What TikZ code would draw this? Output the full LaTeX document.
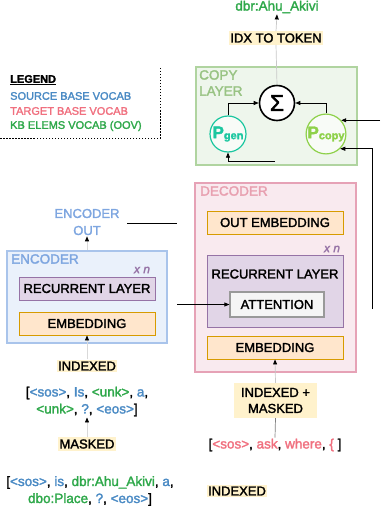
\documentclass[tikz,border=0pt]{standalone}
\usepackage{fontspec}
\setmainfont{Liberation Sans}[FakeBold=2]
\usetikzlibrary{arrows.meta,calc}
\definecolor{srcblue}{HTML}{4A8AC4}
\definecolor{tgtred}{HTML}{F0707F}
\definecolor{kbgreen}{HTML}{2EA84A}
\definecolor{enctitle}{HTML}{7EA6E0}
\definecolor{encfill}{HTML}{EAF1FB}
\definecolor{encdraw}{HTML}{A9C4EB}
\definecolor{decfill}{HTML}{F9EAEF}
\definecolor{decdraw}{HTML}{E6A2B6}
\definecolor{dectitle}{HTML}{E8A0B0}
\definecolor{copyfill}{HTML}{EEF6EC}
\definecolor{copydraw}{HTML}{B0D4A0}
\definecolor{copytitle}{HTML}{98C383}
\definecolor{embfill}{HTML}{FFE6CC}
\definecolor{embdraw}{HTML}{D79B00}
\definecolor{recfill}{HTML}{E1D5E7}
\definecolor{recdraw}{HTML}{9673A6}
\definecolor{beige}{HTML}{FFF2CC}
\definecolor{pgencol}{HTML}{1CC7A0}
\definecolor{pcopycol}{HTML}{8ED14A}
\definecolor{faintline}{HTML}{C8C8C8}
\newcommand{\fsz}[2]{\fontsize{#1}{#2}\selectfont}
\newcommand{\srcb}[1]{\textcolor{srcblue}{#1}}
\newcommand{\kbg}[1]{\textcolor{kbgreen}{#1}}
\newcommand{\tgr}[1]{\textcolor{tgtred}{#1}}
\begin{document}
\begin{tikzpicture}[x=1pt,y=-1pt,
  every node/.style={font=\fsz{13}{15}},
  container/.style={draw, line width=1.2pt, inner sep=0pt},
  box/.style={draw, line width=0.9pt, minimum width=136pt, minimum height=23pt, inner sep=0pt},
  embbox/.style={box, fill=embfill, draw=embdraw},
  recbox/.style={box, fill=recfill, draw=recdraw},
  hl/.style={fill=beige, inner xsep=1.5pt, inner ysep=2pt},
  title/.style={anchor=north west, inner sep=0pt, align=left, font=\fsz{13.5}{16}},
  xn/.style={text=recdraw, font=\fsz{12}{13}\itshape, inner sep=0pt},
  lst/.style={align=center, inner sep=1pt, font=\fsz{13.5}{17}},
  legtxt/.style={anchor=west, inner sep=0pt, font=\fsz{11}{13}},
  arr/.style={-{Triangle[length=5pt,width=4pt]}, line width=0.7pt},
  farr/.style={-{Triangle[length=5pt,width=4pt,color=black]}, draw=faintline, line width=0.7pt},
  pcirc/.style={circle, line width=1.2pt, minimum size=36pt, inner sep=0pt}
]
\useasboundingbox (0,0) rectangle (380,508);

% legend
\node[legtxt] (legT) at (10,80) {\underline{\textbf{LEGEND}}};
\node[legtxt, text=srcblue] (legS) at (10,96) {SOURCE BASE VOCAB};
\node[legtxt, text=tgtred] (legR) at (10,111) {TARGET BASE VOCAB};
\node[legtxt, text=kbgreen] (legK) at (10,126) {KB ELEMS VOCAB (OOV)};
\coordinate (lg1) at (160,68);
\coordinate (lg2) at (160,138);
\coordinate (lg3) at (0,138);
\draw[dash pattern=on 1.5pt off 1.5pt, line width=0.8pt] (lg1) -- (lg2) -- (lg3);

% top output
\node[text=kbgreen, inner sep=1pt, font=\fsz{13.5}{15}] (dbr) at (277,7) {dbr:Ahu\_Akivi};
\node[hl] (idx) at (276,38) {IDX TO TOKEN};

% copy layer
\node[container, fill=copyfill, draw=copydraw, minimum width=161pt, minimum height=98pt] (copy) at (276.5,116) {};
\node[title, text=copytitle] (copyT) at (199,70) {COPY\\LAYER};
\node[circle, draw=black, fill=white, line width=1.6pt, minimum size=35pt, inner sep=0pt, font=\fsz{23}{23}] (sigma) at (277,103) {Σ};
\node[pcirc, draw=pgencol, fill=white!60!copyfill, text=pgencol] (pgen) at (228,134)
  {\bfseries{\fsz{17}{17}P}\raisebox{-1pt}{\fsz{11}{10}gen}};
\node[pcirc, draw=pcopycol, fill=white!60!copyfill, text=pcopycol] (pcopy) at (326,134)
  {\bfseries{\fsz{17}{17}P}\raisebox{-1pt}{\fsz{11}{10}copy}};

% decoder
\node[container, fill=decfill, draw=decdraw, minimum width=161pt, minimum height=189pt] (dec) at (275.5,277.5) {};
\node[title, text=dectitle] (decT) at (200,186) {DECODER};
\node[embbox] (outemb) at (275,222.5) {OUT EMBEDDING};
\node[xn] (xnd) at (332,249) {x n};
\node[recbox, minimum height=72pt] (decrec) at (275,291) {};
\node[inner sep=0pt] (decrecT) at (275,274) {RECURRENT LAYER};
\node[draw=black!40, fill=black!4, line width=1.2pt, minimum width=94pt, minimum height=25pt, inner sep=0pt] (att) at (277,304.5) {ATTENTION};
\node[embbox] (decemb) at (275,347.5) {EMBEDDING};

% encoder
\node[container, fill=encfill, draw=encdraw, minimum width=160pt, minimum height=92pt] (enc) at (87,297) {};
\node[title, text=enctitle] (encT) at (11,254) {ENCODER};
\node[xn] (xne) at (142,270) {x n};
\node[recbox] (encrec) at (87,288.5) {RECURRENT LAYER};
\node[embbox] (encemb) at (87,323.5) {EMBEDDING};
\node[text=enctitle, align=center, inner sep=1pt, font=\fsz{13}{17}] (encout) at (87,222) {ENCODER\\OUT};

% left inputs
\node[hl] (indL) at (87,366) {INDEXED};
\node[lst] (list1) at (87,401.5) {[\srcb{<sos>}, \srcb{Is}, \kbg{<unk>}, \srcb{a},\\\kbg{<unk>}, \srcb{?}, \srcb{<eos>}]};
\node[hl] (masked) at (87,444) {MASKED};
\node[lst] (list2) at (90,491) {[\srcb{<sos>}, \srcb{is}, \kbg{dbr:Ahu\_Akivi}, \srcb{a},\\\kbg{dbo:Place}, \srcb{?}, \srcb{<eos>}]};

% right inputs
\node[hl, align=center, minimum width=83pt, minimum height=35pt, inner sep=0pt, font=\fsz{13}{16}] (indmask) at (275.5,400.5) {INDEXED +\\MASKED};
\node[lst] (list3) at (275,445) {[\tgr{<sos>}, \tgr{ask}, \tgr{where}, \tgr{\{} ]};
\node[hl] (indR) at (237,491) {INDEXED};

% connectors
\draw[farr] (idx.north) -- (dbr.south);
\draw[draw=faintline, line width=0.7pt] (sigma.north) -- (idx.south);
\draw[arr] (pgen.north) |- (sigma.west);
\draw[arr] (pcopy.north) |- (sigma.east);
\coordinate (rin1) at (380,122);
\draw[arr] (pcopy.42 -| rin1) -- (pcopy.42);
\coordinate (rin2) at (372,309);
\draw[arr] (rin2) |- (pcopy.-46);
\coordinate (gin) at (275,161);
\draw[arr] (gin) -| (pgen.south);
\coordinate (eo1) at (127,223);
\coordinate (eo2) at (177,223);
\draw[line width=0.7pt] (eo1) -- (eo2);
\coordinate (ain) at (177,304.5);
\draw[arr] (ain) -- (att.west);
\draw[farr, draw=white!85!black] (enc.north) -- (encout.south);
\draw[farr, draw=white!85!black] (indL.north) -- (encemb.south);
\draw[farr, draw=white!85!black] (masked.north) -- (list1.south);
\draw[farr] (indmask.north) -- (decemb.south);
\draw[draw=black!50, line width=0.7pt] (indmask.south) -- (list3.north);
\end{tikzpicture}
\end{document}
